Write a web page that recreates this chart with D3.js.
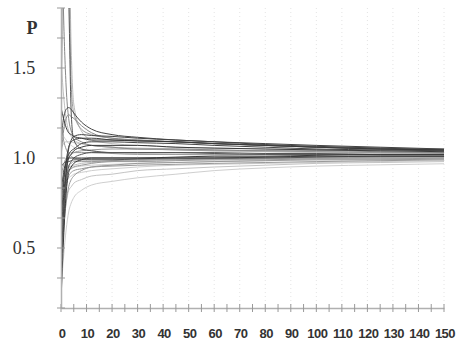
<!DOCTYPE html>
<html><head><meta charset="utf-8">
<script src="https://cdn.jsdelivr.net/npm/d3@7"></script>
<style>body{margin:0;background:#fff}svg{display:block}</style>
</head><body>
<svg id="c" width="456" height="346"></svg>
<script>
const xs = [0,1,2,3,4,5,8,12,20,30,45,60,80,100,125,150];
const xTicks = [0,10,20,30,40,50,60,70,80,90,100,110,120,130,140,150];
const yTickLabels = [0.5,1.0,1.5];
const s1 = [0.20,0.55,0.80,0.92,0.95,0.97,0.99,1.00,1.00,1.00,1.00,1.00,1.005,1.01,1.01,1.01];
const s2 = [0.30,0.62,0.85,0.95,0.98,1.00,1.02,1.03,1.03,1.03,1.03,1.025,1.02,1.02,1.02,1.02];
const s3 = [0.45,0.70,0.88,0.96,0.97,0.98,0.98,0.98,0.985,0.99,0.99,0.995,1.00,1.00,1.00,1.00];
const s4 = [0.55,0.78,0.92,1.00,1.02,1.04,1.06,1.07,1.07,1.07,1.06,1.055,1.05,1.045,1.04,1.035];
const s5 = [0.65,0.82,0.90,0.93,0.94,0.95,0.96,0.97,0.98,0.98,0.985,0.99,0.99,0.995,0.995,1.00];
const s6 = [0.75,0.88,0.97,1.02,1.04,1.05,1.08,1.09,1.09,1.085,1.08,1.07,1.06,1.05,1.045,1.04];
const s7 = [0.85,0.90,0.93,0.95,0.955,0.96,0.97,0.975,0.98,0.985,0.99,0.99,0.995,1.00,1.00,1.005];
const s8 = [0.38,0.60,0.75,0.84,0.88,0.90,0.93,0.95,0.96,0.97,0.975,0.98,0.985,0.99,0.99,0.995];
const s9 = [0.25,0.45,0.60,0.70,0.75,0.78,0.82,0.85,0.87,0.89,0.91,0.93,0.945,0.955,0.962,0.968];
const s10 = [0.50,0.65,0.75,0.82,0.84,0.86,0.88,0.90,0.91,0.93,0.94,0.95,0.96,0.97,0.975,0.98];
const s11 = [0.60,0.85,0.98,1.06,1.09,1.10,1.11,1.11,1.10,1.095,1.09,1.08,1.07,1.06,1.05,1.045];
const s12 = [0.35,0.68,0.90,1.00,1.02,1.03,1.04,1.045,1.05,1.05,1.045,1.04,1.04,1.035,1.03,1.03];
const s13 = [0.70,0.80,0.86,0.89,0.90,0.91,0.92,0.93,0.94,0.95,0.96,0.965,0.97,0.975,0.98,0.985];
const s14 = [0.80,0.92,0.98,1.00,1.00,1.00,1.00,1.00,1.00,1.00,1.005,1.01,1.01,1.015,1.02,1.02];
const s15 = [1.10,1.22,1.27,1.28,1.27,1.25,1.20,1.16,1.13,1.115,1.10,1.09,1.075,1.065,1.055,1.045];
const s16 = [1.00,1.15,1.22,1.24,1.23,1.22,1.18,1.14,1.11,1.10,1.09,1.08,1.07,1.06,1.05,1.04];
const s17 = [1.28,1.22,1.17,1.14,1.13,1.12,1.11,1.10,1.10,1.095,1.09,1.08,1.07,1.06,1.05,1.045];
const s18 = [1.5,2.2,2.6,2.2,1.40,1.25,1.16,1.13,1.11,1.10,1.09,1.08,1.07,1.06,1.055,1.05];
const s19 = [1.3,1.9,2.4,2.3,1.60,1.30,1.15,1.10,1.08,1.07,1.06,1.055,1.05,1.045,1.04,1.04];
const s20 = [2.5,1.8,1.40,1.22,1.15,1.12,1.09,1.07,1.06,1.05,1.05,1.045,1.04,1.04,1.035,1.03];
const s21 = [1.55,1.35,1.22,1.15,1.12,1.10,1.08,1.07,1.06,1.055,1.05,1.045,1.04,1.035,1.03,1.03];
const s22 = [2.2,2.4,2.3,1.9,1.25,1.10,1.05,1.04,1.03,1.03,1.03,1.03,1.025,1.025,1.02,1.02];
const s23 = [0.90,0.96,1.00,1.02,1.03,1.03,1.03,1.03,1.025,1.02,1.02,1.02,1.02,1.02,1.015,1.015];
const s24 = [1.05,1.08,1.09,1.09,1.09,1.085,1.08,1.07,1.06,1.05,1.045,1.04,1.035,1.03,1.03,1.025];
const s25 = [0.95,0.97,0.98,0.98,0.985,0.99,0.99,0.99,0.99,0.995,1.00,1.00,1.00,1.005,1.01,1.01];
const s26 = [1.15,1.12,1.10,1.08,1.07,1.06,1.05,1.04,1.03,1.025,1.02,1.015,1.01,1.01,1.005,1.005];
const s27 = [0.60,0.75,0.84,0.90,0.92,0.93,0.94,0.95,0.955,0.96,0.965,0.97,0.975,0.98,0.985,0.99];
const s28 = [0.40,0.70,0.92,1.05,1.10,1.12,1.13,1.125,1.12,1.11,1.10,1.09,1.08,1.07,1.06,1.05];
const s29 = [0.90,0.93,0.94,0.95,0.95,0.95,0.955,0.96,0.965,0.97,0.975,0.98,0.985,0.99,0.99,0.995];
const s30 = [1.20,1.10,1.05,1.02,1.01,1.00,0.995,0.99,0.99,0.99,0.995,1.00,1.00,1.00,1.005,1.01];

const series = [s1,s2,s3,s4,s5,s6,s7,s8,s9,s10,s11,s12,s13,s14,s15,s16,s17,s18,s19,s20,s21,s22,s23,s24,s25,s26,s27,s28,s29,s30];
const shades = ["#3a3a3a","#555","#999","#3a3a3a","#999","#444","#c0c0c0","#999","#cfcfcf","#c4c4c4",
                "#444","#999","#cfcfcf","#3a3a3a","#444","#888","#3a3a3a","#999","#bbb","#888",
                "#c0c0c0","#555","#999","#c0c0c0","#555","#cfcfcf","#999","#444","#cfcfcf","#999"];

const svg = d3.select("#c");
const L = 61, T = 8, R = 444, B = 308;
const x = d3.scaleLinear().domain([0,150]).range([L,R]);
const y = d3.scaleLinear().domain([1/6, 11/6]).range([B,T]);

svg.append("g").selectAll("line").data(xTicks.slice(1)).join("line")
  .attr("x1",d=>x(d)).attr("x2",d=>x(d)).attr("y1",T).attr("y2",B)
  .attr("stroke","#e4e4e4").attr("stroke-dasharray","1,3");

svg.append("defs").append("clipPath").attr("id","clp")
  .append("rect").attr("x",L).attr("y",T).attr("width",R-L+2).attr("height",B-T);

const line = d3.line().x((d,i)=>x(xs[i])).y(d=>y(d)).curve(d3.curveMonotoneX);
const gl = svg.append("g").attr("clip-path","url(#clp)");
const order = series.map((s,i)=>i).sort((a,b)=>d3.color(shades[b]).r - d3.color(shades[a]).r);
gl.selectAll("path").data(order).join("path")
  .attr("d",i=>line(series[i]))
  .attr("fill","none").attr("stroke",i=>shades[i]).attr("stroke-width",1);

const xAxis = d3.axisBottom(x).tickValues(d3.range(0,151,5)).tickSize(0).tickFormat("");
const gx = svg.append("g").attr("transform",`translate(0,${B})`).call(xAxis);
gx.select(".domain").attr("stroke","#b0b0b0").attr("stroke-width",1.5);
svg.append("g").selectAll("line").data(d3.range(0,151,5)).join("line")
  .attr("x1",d=>x(d)).attr("x2",d=>x(d)).attr("y1",B-4).attr("y2",B+4)
  .attr("stroke","#999");
svg.append("g").selectAll("text").data(xTicks).join("text")
  .attr("x",d=>x(d)+1).attr("y",B+30).attr("text-anchor","middle")
  .attr("font-family","'Liberation Sans Narrow','Arial Narrow',sans-serif")
  .attr("font-size",13).attr("font-weight","bold").attr("fill","#333")
  .attr("letter-spacing","-0.5")
  .text(d=>d);

const gy = svg.append("g").attr("transform",`translate(${L},0)`)
  .call(d3.axisLeft(y).tickValues([]).tickSize(0));
gy.select(".domain").attr("stroke","#b0b0b0").attr("stroke-width",1.5);
svg.append("g").selectAll("line").data(d3.range(0,11).map(k=>1/6+k/6)).join("line")
  .attr("x1",L-4).attr("x2",L+4).attr("y1",d=>y(d)).attr("y2",d=>y(d))
  .attr("stroke","#999");
svg.append("g").selectAll("text").data(yTickLabels).join("text")
  .attr("x",24).attr("y",d=>y(d)+6).attr("text-anchor","middle")
  .attr("font-family","'Liberation Serif','Times New Roman',serif")
  .attr("font-size",18).attr("fill","#333")
  .text(d=>d.toFixed(1));
svg.append("text").attr("x",32).attr("y",34).attr("text-anchor","middle")
  .attr("font-family","'Liberation Serif','Times New Roman',serif")
  .attr("font-size",18).attr("font-weight","bold").attr("fill","#333").text("P");
</script>
</body></html>
